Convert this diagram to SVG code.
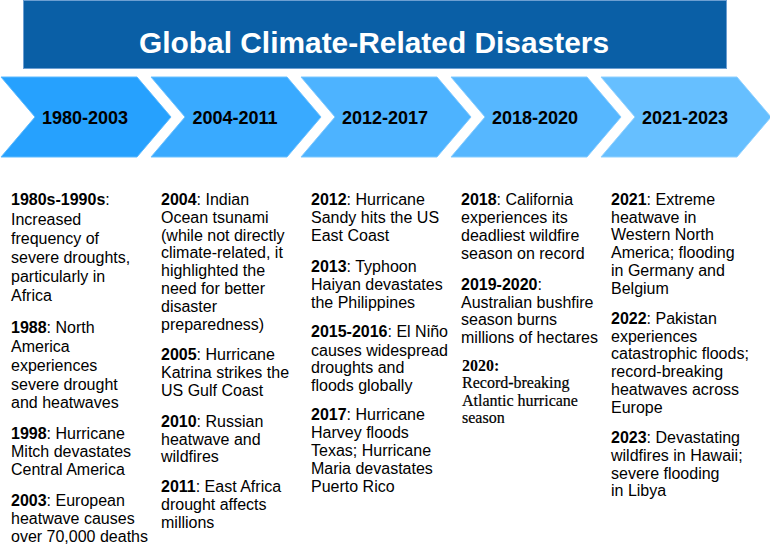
<svg xmlns="http://www.w3.org/2000/svg" width="770" height="558" viewBox="0 0 770 558">
<style>
.t{font-family:"Liberation Sans",Arial,sans-serif;font-size:16px;fill:#000}
.s{font-family:"Liberation Serif","Times New Roman",serif;font-size:16px;fill:#000;stroke:#000;stroke-width:0.2}
.sb{font-family:"Liberation Serif","Times New Roman",serif;font-size:16px;font-weight:bold;fill:#000}
.b{font-weight:bold}
.lab{font-family:"Liberation Sans",Arial,sans-serif;font-size:18px;font-weight:bold;fill:#000;text-anchor:middle}
.chev{stroke-width:1}
</style>
<defs>
<path id="chev" d="M0,0 H136 L170,40 L136,80 H0 L34,40 Z"/>
</defs>
<rect width="770" height="558" fill="#ffffff"/>
<g id="header">
<rect x="23.5" y="0.5" width="703" height="68" fill="#0a5fa6" stroke="#6d9fd2" stroke-width="1"/>
<text x="374" y="53" text-anchor="middle" font-family="'Liberation Sans',Arial,sans-serif" font-size="30" font-weight="bold" fill="#ffffff" textLength="470" lengthAdjust="spacingAndGlyphs">Global Climate-Related Disasters</text>
</g>
<g id="phase1" transform="translate(1,77)">
<use href="#chev" fill="#26a1fe" stroke="#5cbaff" class="chev"/>
<text class="lab" x="84" y="46.5">1980-2003</text>
</g>
<g id="phase2" transform="translate(151,77)">
<use href="#chev" fill="#39aaff" stroke="#6cc2ff" class="chev"/>
<text class="lab" x="84" y="46.5">2004-2011</text>
</g>
<g id="phase3" transform="translate(301,77)">
<use href="#chev" fill="#4db3ff" stroke="#7cc8ff" class="chev"/>
<text class="lab" x="84" y="46.5">2012-2017</text>
</g>
<g id="phase4" transform="translate(451,77)">
<use href="#chev" fill="#56b7ff" stroke="#84ccff" class="chev"/>
<text class="lab" x="84" y="46.5">2018-2020</text>
</g>
<g id="phase5" transform="translate(601,77)">
<use href="#chev" fill="#66bfff" stroke="#90d1ff" class="chev"/>
<text class="lab" x="84" y="46.5">2021-2023</text>
</g>
<g id="events1980">
<text class="t" x="11" y="205"><tspan class="b">1980s-1990s</tspan>:</text>
<text class="t" x="11" y="224.5">Increased</text>
<text class="t" x="11" y="243.5">frequency of</text>
<text class="t" x="11" y="262.5">severe droughts,</text>
<text class="t" x="11" y="281.5">particularly in</text>
<text class="t" x="11" y="300.5">Africa</text>
<text class="t" x="11" y="332.5"><tspan class="b">1988</tspan>: North</text>
<text class="t" x="11" y="351.5">America</text>
<text class="t" x="11" y="370.5">experiences</text>
<text class="t" x="11" y="389.5">severe drought</text>
<text class="t" x="11" y="408.3">and heatwaves</text>
<text class="t" x="11" y="439"><tspan class="b">1998</tspan>: Hurricane</text>
<text class="t" x="11" y="457.3">Mitch devastates</text>
<text class="t" x="11" y="475.3">Central America</text>
<text class="t" x="11" y="506"><tspan class="b">2003</tspan>: European</text>
<text class="t" x="11" y="524">heatwave causes</text>
<text class="t" x="11" y="542">over 70,000 deaths</text>
</g>
<g id="events2004">
<text class="t" x="161" y="205"><tspan class="b">2004</tspan>: Indian</text>
<text class="t" x="161" y="222.8">Ocean tsunami</text>
<text class="t" x="161" y="240.6">(while not directly</text>
<text class="t" x="161" y="258.4">climate-related, it</text>
<text class="t" x="161" y="276.2">highlighted the</text>
<text class="t" x="161" y="294">need for better</text>
<text class="t" x="161" y="311.8">disaster</text>
<text class="t" x="161" y="329.6">preparedness)</text>
<text class="t" x="161" y="359.5"><tspan class="b">2005</tspan>: Hurricane</text>
<text class="t" x="161" y="377.5">Katrina strikes the</text>
<text class="t" x="161" y="395.5">US Gulf Coast</text>
<text class="t" x="161" y="427"><tspan class="b">2010</tspan>: Russian</text>
<text class="t" x="161" y="444.5">heatwave and</text>
<text class="t" x="161" y="462.3">wildfires</text>
<text class="t" x="161" y="492.3"><tspan class="b">2011</tspan>: East Africa</text>
<text class="t" x="161" y="510">drought affects</text>
<text class="t" x="161" y="527.7">millions</text>
</g>
<g id="events2012">
<text class="t" x="311" y="205"><tspan class="b">2012</tspan>: Hurricane</text>
<text class="t" x="311" y="223">Sandy hits the US</text>
<text class="t" x="311" y="241">East Coast</text>
<text class="t" x="311" y="271.7"><tspan class="b">2013</tspan>: Typhoon</text>
<text class="t" x="311" y="290">Haiyan devastates</text>
<text class="t" x="311" y="307.7">the Philippines</text>
<text class="t" x="311" y="337.3"><tspan class="b">2015-2016</tspan>: El Niño</text>
<text class="t" x="311" y="355.5">causes widespread</text>
<text class="t" x="311" y="373.3">droughts and</text>
<text class="t" x="311" y="391">floods globally</text>
<text class="t" x="311" y="420"><tspan class="b">2017</tspan>: Hurricane</text>
<text class="t" x="311" y="438">Harvey floods</text>
<text class="t" x="311" y="456">Texas; Hurricane</text>
<text class="t" x="311" y="474">Maria devastates</text>
<text class="t" x="311" y="491.7">Puerto Rico</text>
</g>
<g id="events2018">
<text class="t" x="461" y="205"><tspan class="b">2018</tspan>: California</text>
<text class="t" x="461" y="222.7">experiences its</text>
<text class="t" x="461" y="240.7">deadliest wildfire</text>
<text class="t" x="461" y="259">season on record</text>
<text class="t" x="461" y="290"><tspan class="b">2019-2020</tspan>:</text>
<text class="t" x="461" y="307.7">Australian bushfire</text>
<text class="t" x="461" y="325.4">season burns</text>
<text class="t" x="461" y="343.1">millions of hectares</text>
<text class="sb" x="462" y="370.5">2020:</text>
<text class="s" x="462" y="388.3">Record-breaking</text>
<text class="s" x="462" y="406">Atlantic hurricane</text>
<text class="s" x="462" y="423.3">season</text>
</g>
<g id="events2021">
<text class="t" x="611" y="205"><tspan class="b">2021</tspan>: Extreme</text>
<text class="t" x="611" y="222.7">heatwave in</text>
<text class="t" x="611" y="240.4">Western North</text>
<text class="t" x="611" y="258.1">America; flooding</text>
<text class="t" x="611" y="275.8">in Germany and</text>
<text class="t" x="611" y="293.5">Belgium</text>
<text class="t" x="611" y="324"><tspan class="b">2022</tspan>: Pakistan</text>
<text class="t" x="611" y="341.7">experiences</text>
<text class="t" x="611" y="359.4">catastrophic floods;</text>
<text class="t" x="611" y="377.1">record-breaking</text>
<text class="t" x="611" y="394.8">heatwaves across</text>
<text class="t" x="611" y="412.5">Europe</text>
<text class="t" x="611" y="443.3"><tspan class="b">2023</tspan>: Devastating</text>
<text class="t" x="611" y="461">wildfires in Hawaii;</text>
<text class="t" x="611" y="478.7">severe flooding</text>
<text class="t" x="611" y="496.4">in Libya</text>
</g>
</svg>
